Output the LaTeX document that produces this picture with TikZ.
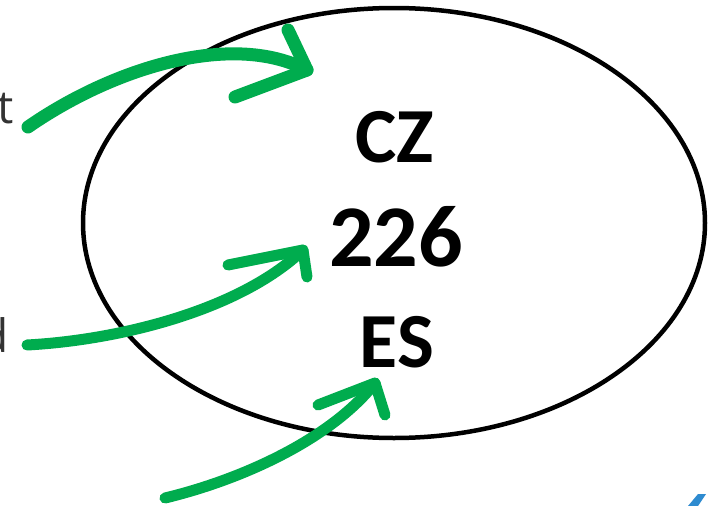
\documentclass[tikz,border=0pt]{standalone}
\usepackage{fontspec}
\setmainfont{Carlito}
\newfontfamily\lightfont{Open Sans}
\definecolor{arrowgreen}{HTML}{00AC4E}
\definecolor{markblue}{HTML}{2E8BD0}
\begin{document}
\begin{tikzpicture}[x=1pt,y=-1pt,
  garrow/.style={draw=arrowgreen,line cap=round,line join=round},
  bigtxt/.style={font=\fontsize{78}{80}\selectfont\bfseries,inner sep=0pt},
  sidetxt/.style={font=\lightfont\fontsize{46}{48}\selectfont,text=black!80,inner sep=0pt}]
\useasboundingbox (0,0) rectangle (723,506);
\clip (0,0) rectangle (723,506);
\fill[white] (0,0) rectangle (723,506);
% ellipse
\draw[line width=4.5] (394,223) ellipse [x radius=311, y radius=215];
% texts
\node[bigtxt] (cz) at (395,137) {CZ};
\node[bigtxt,font=\fontsize{88}{90}\selectfont\bfseries] (num) at (396,237) {226};
\node[bigtxt] (es) at (397,342) {ES};
\node[sidetxt,anchor=base east] (t) at (14,123) {t};
\node[sidetxt,anchor=base east] (d) at (9,352) {d};
% arrow endpoints
\coordinate (s1) at (28,127);
\coordinate (e1) at (307,70);
\coordinate (s2) at (27,345);
\coordinate (e2) at (303,250);
\coordinate (s3) at (165,498);
\coordinate (e3) at (375,383);
% arrow 1
\draw[garrow,line width=13] (s1) .. controls (110,70) and (230,30) .. (e1);
\draw[garrow,line width=13] (288,30) -- (e1) -- (235,97);
% arrow 2
\draw[garrow,line width=11] (s2) .. controls (120,340) and (240,310) .. (e2);
\draw[garrow,line width=11] (228,265) -- (e2) -- (307,277);
% arrow 3
\draw[garrow,line width=11] (s3) .. controls (240,480) and (330,440) .. (e3);
\draw[garrow,line width=11] (318,405) -- (e3) -- (385,415);
% blue mark
\fill[markblue] (688,506) -- (698,494) -- (706,494) -- (698,506) -- cycle;
\end{tikzpicture}
\end{document}
